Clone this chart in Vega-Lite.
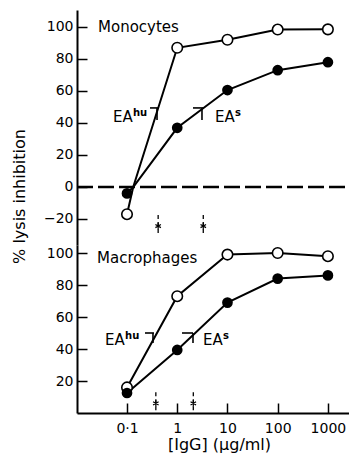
{
  "$schema": "https://vega.github.io/schema/vega-lite/v6.json",
  "autosize": {"type": "pad"},
  "padding": {"left": 11, "top": 10, "right": 0, "bottom": 5},
  "background": "white",
  "spacing": 0,
  "bounds": "flush",
  "config": {
    "font": "DejaVu Sans",
    "view": {"stroke": null},
    "axis": {
      "domainColor": "black", "domainWidth": 2, "tickColor": "black", "tickWidth": 1.5,
      "tickSize": -10, "labelColor": "black", "labelFontSize": 14, "labelFont": "DejaVu Sans",
      "titleColor": "black", "titleFont": "DejaVu Sans", "titleFontWeight": "normal", "grid": false
    }
  },
  "datasets": {
    "curves": [
      {"panel": "Monocytes", "cell": "EAhu", "igg": 0.1, "pct": -17, "kind": "measured"},
      {"panel": "Monocytes", "cell": "EAhu", "igg": 0.133, "pct": 0, "kind": "junction"},
      {"panel": "Monocytes", "cell": "EAhu", "igg": 1, "pct": 87, "kind": "measured"},
      {"panel": "Monocytes", "cell": "EAhu", "igg": 10, "pct": 92, "kind": "measured"},
      {"panel": "Monocytes", "cell": "EAhu", "igg": 100, "pct": 98.4, "kind": "measured"},
      {"panel": "Monocytes", "cell": "EAhu", "igg": 1000, "pct": 98.5, "kind": "measured"},
      {"panel": "Monocytes", "cell": "EAs", "igg": 0.1, "pct": -4, "kind": "measured"},
      {"panel": "Monocytes", "cell": "EAs", "igg": 0.133, "pct": 0, "kind": "junction"},
      {"panel": "Monocytes", "cell": "EAs", "igg": 1, "pct": 37, "kind": "measured"},
      {"panel": "Monocytes", "cell": "EAs", "igg": 10, "pct": 60.6, "kind": "measured"},
      {"panel": "Monocytes", "cell": "EAs", "igg": 100, "pct": 73, "kind": "measured"},
      {"panel": "Monocytes", "cell": "EAs", "igg": 1000, "pct": 78, "kind": "measured"},
      {"panel": "Macrophages", "cell": "EAhu", "igg": 0.1, "pct": 16, "kind": "measured"},
      {"panel": "Macrophages", "cell": "EAhu", "igg": 1, "pct": 73, "kind": "measured"},
      {"panel": "Macrophages", "cell": "EAhu", "igg": 10, "pct": 99, "kind": "measured"},
      {"panel": "Macrophages", "cell": "EAhu", "igg": 100, "pct": 100, "kind": "measured"},
      {"panel": "Macrophages", "cell": "EAhu", "igg": 1000, "pct": 98, "kind": "measured"},
      {"panel": "Macrophages", "cell": "EAs", "igg": 0.1, "pct": 12.5, "kind": "measured"},
      {"panel": "Macrophages", "cell": "EAs", "igg": 1, "pct": 39.4, "kind": "measured"},
      {"panel": "Macrophages", "cell": "EAs", "igg": 10, "pct": 69, "kind": "measured"},
      {"panel": "Macrophages", "cell": "EAs", "igg": 100, "pct": 84, "kind": "measured"},
      {"panel": "Macrophages", "cell": "EAs", "igg": 1000, "pct": 86, "kind": "measured"}
    ],
    "zeroline": [
      {"panel": "Monocytes", "igg": 0.0101, "igg2": 2630, "pct": 0}
    ],
    "halfmarks": [
      {"panel": "Monocytes", "igg": 0.287, "igg2": 0.434, "pct": 49.4, "pct2": 49.4},
      {"panel": "Monocytes", "igg": 0.396, "igg2": 0.396, "pct": 49.4, "pct2": 41.9},
      {"panel": "Monocytes", "igg": 2.06, "igg2": 3.4, "pct": 49.4, "pct2": 49.4},
      {"panel": "Monocytes", "igg": 3.11, "igg2": 3.11, "pct": 49.4, "pct2": 41.9},
      {"panel": "Macrophages", "igg": 0.228, "igg2": 0.344, "pct": 50, "pct2": 50},
      {"panel": "Macrophages", "igg": 0.329, "igg2": 0.329, "pct": 50, "pct2": 43.75},
      {"panel": "Macrophages", "igg": 1.245, "igg2": 2.06, "pct": 50, "pct2": 50},
      {"panel": "Macrophages", "igg": 2.06, "igg2": 2.06, "pct": 50, "pct2": 43.75}
    ],
    "stars": [
      {"panel": "Monocytes", "igg": 0.417, "pct": -17.5, "pct2": -30.6, "star": -24.4},
      {"panel": "Monocytes", "igg": 3.3, "pct": -17.5, "pct2": -30.6, "star": -24.4},
      {"panel": "Macrophages", "igg": 0.375, "pct": 13, "pct2": 0, "star": 6},
      {"panel": "Macrophages", "igg": 2.09, "pct": 13, "pct2": 0, "star": 6}
    ],
    "names": [
      {"panel": "Monocytes", "igg": 0.0265, "pct": 97.1, "text": "Monocytes"},
      {"panel": "Macrophages", "igg": 0.0253, "pct": 93.75, "text": "Macrophages"}
    ],
    "ealabels": [
      {"panel": "Monocytes", "igg": 0.0526, "pct": 40.6, "text": "EA", "sup": "hu"},
      {"panel": "Monocytes", "igg": 5.64, "pct": 40.6, "text": "EA", "sup": "s"},
      {"panel": "Macrophages", "igg": 0.0365, "pct": 42.5, "text": "EA", "sup": "hu"},
      {"panel": "Macrophages", "igg": 3.25, "pct": 42.5, "text": "EA", "sup": "s"}
    ]
  },
  "resolve": {"scale": {"x": "independent", "y": "independent"}},
  "vconcat": [
    {
      "width": 272,
      "height": 235,
      "encoding": {
        "x": {"field": "igg", "type": "quantitative", "scale": {"type": "log", "domain": [0.0101, 2630], "nice": false}, "axis": null},
        "y": {"field": "pct", "type": "quantitative", "scale": {"domain": [-36.25, 110.6], "nice": false, "zero": false},
          "axis": {"values": [-20, 0, 20, 40, 60, 80, 100], "labelPadding": 14, "title": "% lysis inhibition",
            "titleFontSize": 16, "titleAngle": -90, "titleX": -53, "titleY": 186, "titleAlign": "center", "titleBaseline": "alphabetic"}}
      },
      "layer": [
        {
          "data": {"name": "zeroline"},
          "mark": {"type": "rule", "color": "black", "strokeWidth": 2.5, "strokeDash": [16, 5]},
          "encoding": {"x2": {"field": "igg2"}}
        },
        {
          "data": {"name": "curves"},
          "transform": [{"filter": "datum.panel == 'Monocytes'"}],
          "mark": {"type": "line", "color": "black", "strokeWidth": 2},
          "encoding": {"detail": {"field": "cell"}}
        },
        {
          "data": {"name": "halfmarks"},
          "transform": [{"filter": "datum.panel == 'Monocytes'"}],
          "mark": {"type": "rule", "color": "black", "strokeWidth": 1.6},
          "encoding": {"x2": {"field": "igg2"}, "y2": {"field": "pct2"}}
        },
        {
          "data": {"name": "stars"},
          "transform": [{"filter": "datum.panel == 'Monocytes'"}],
          "mark": {"type": "rule", "color": "black", "strokeWidth": 1.3, "strokeDash": [4, 3]},
          "encoding": {"y2": {"field": "pct2"}}
        },
        {
          "data": {"name": "stars"},
          "transform": [{"filter": "datum.panel == 'Monocytes'"}],
          "mark": {"type": "point", "shape": "M0,-1L0,1M-0.87,-0.5L0.87,0.5M-0.87,0.5L0.87,-0.5", "filled": false, "color": "black", "strokeWidth": 1.2, "size": 40, "opacity": 1},
          "encoding": {"y": {"field": "star", "type": "quantitative"}}
        },
        {
          "data": {"name": "curves"},
          "transform": [{"filter": "datum.panel == 'Monocytes' && datum.cell == 'EAhu' && datum.kind == 'measured'"}],
          "mark": {"type": "point", "shape": "circle", "filled": true, "fill": "white", "stroke": "black", "strokeWidth": 1.6, "size": 110, "opacity": 1}
        },
        {
          "data": {"name": "curves"},
          "transform": [{"filter": "datum.panel == 'Monocytes' && datum.cell == 'EAs' && datum.kind == 'measured'"}],
          "mark": {"type": "point", "shape": "circle", "filled": true, "color": "black", "size": 115, "opacity": 1}
        },
        {
          "data": {"name": "names"},
          "transform": [{"filter": "datum.panel == 'Monocytes'"}],
          "mark": {"type": "text", "align": "left", "baseline": "alphabetic", "fontSize": 15, "color": "black"},
          "encoding": {"text": {"field": "text"}}
        },
        {
          "data": {"name": "ealabels"},
          "transform": [{"filter": "datum.panel == 'Monocytes'"}],
          "mark": {"type": "text", "align": "left", "baseline": "alphabetic", "fontSize": 15, "color": "black"},
          "encoding": {"text": {"field": "text"}}
        },
        {
          "data": {"name": "ealabels"},
          "transform": [{"filter": "datum.panel == 'Monocytes'"}],
          "mark": {"type": "text", "align": "left", "baseline": "alphabetic", "fontSize": 10, "fontWeight": "bold", "dx": 20, "dy": -6, "color": "black"},
          "encoding": {"text": {"field": "sup"}}
        }
      ]
    },
    {
      "width": 272,
      "height": 168,
      "encoding": {
        "x": {"field": "igg", "type": "quantitative", "scale": {"type": "log", "domain": [0.0101, 2630], "nice": false},
          "axis": {"values": [0.1, 1, 10, 100, 1000], "labelPadding": 18, "labelExpr": "datum.value < 1 ? '0·1' : format(datum.value, 'd')",
            "title": "[IgG] (μg/ml)", "titleFontSize": 16, "titleX": 142, "titleY": 36, "titleAlign": "center", "titleBaseline": "alphabetic"}},
        "y": {"field": "pct", "type": "quantitative", "scale": {"domain": [0, 105], "nice": false, "zero": false},
          "axis": {"values": [20, 40, 60, 80, 100], "labelPadding": 14, "title": null}}
      },
      "layer": [
        {
          "data": {"name": "curves"},
          "transform": [{"filter": "datum.panel == 'Macrophages'"}],
          "mark": {"type": "line", "color": "black", "strokeWidth": 2},
          "encoding": {"detail": {"field": "cell"}}
        },
        {
          "data": {"name": "halfmarks"},
          "transform": [{"filter": "datum.panel == 'Macrophages'"}],
          "mark": {"type": "rule", "color": "black", "strokeWidth": 1.6},
          "encoding": {"x2": {"field": "igg2"}, "y2": {"field": "pct2"}}
        },
        {
          "data": {"name": "stars"},
          "transform": [{"filter": "datum.panel == 'Macrophages'"}],
          "mark": {"type": "rule", "color": "black", "strokeWidth": 1.3, "strokeDash": [4, 3]},
          "encoding": {"y2": {"field": "pct2"}}
        },
        {
          "data": {"name": "stars"},
          "transform": [{"filter": "datum.panel == 'Macrophages'"}],
          "mark": {"type": "point", "shape": "M0,-1L0,1M-0.87,-0.5L0.87,0.5M-0.87,0.5L0.87,-0.5", "filled": false, "color": "black", "strokeWidth": 1.2, "size": 40, "opacity": 1},
          "encoding": {"y": {"field": "star", "type": "quantitative"}}
        },
        {
          "data": {"name": "curves"},
          "transform": [{"filter": "datum.panel == 'Macrophages' && datum.cell == 'EAhu'"}],
          "mark": {"type": "point", "shape": "circle", "filled": true, "fill": "white", "stroke": "black", "strokeWidth": 1.6, "size": 110, "opacity": 1}
        },
        {
          "data": {"name": "curves"},
          "transform": [{"filter": "datum.panel == 'Macrophages' && datum.cell == 'EAs'"}],
          "mark": {"type": "point", "shape": "circle", "filled": true, "color": "black", "size": 115, "opacity": 1}
        },
        {
          "data": {"name": "names"},
          "transform": [{"filter": "datum.panel == 'Macrophages'"}],
          "mark": {"type": "text", "align": "left", "baseline": "alphabetic", "fontSize": 15, "color": "black"},
          "encoding": {"text": {"field": "text"}}
        },
        {
          "data": {"name": "ealabels"},
          "transform": [{"filter": "datum.panel == 'Macrophages'"}],
          "mark": {"type": "text", "align": "left", "baseline": "alphabetic", "fontSize": 15, "color": "black"},
          "encoding": {"text": {"field": "text"}}
        },
        {
          "data": {"name": "ealabels"},
          "transform": [{"filter": "datum.panel == 'Macrophages'"}],
          "mark": {"type": "text", "align": "left", "baseline": "alphabetic", "fontSize": 10, "fontWeight": "bold", "dx": 20, "dy": -6, "color": "black"},
          "encoding": {"text": {"field": "sup"}}
        }
      ]
    }
  ]
}
